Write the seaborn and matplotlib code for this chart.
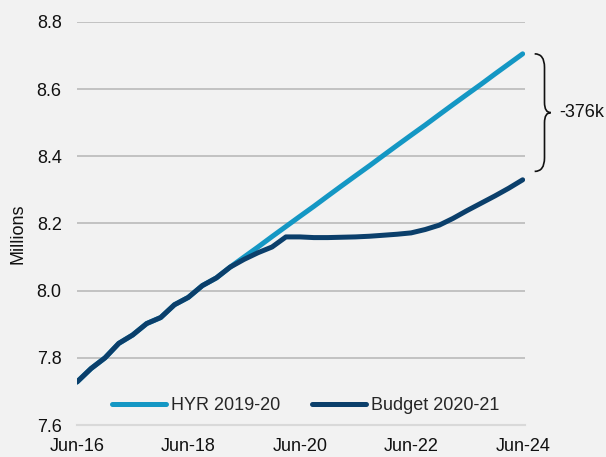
import pandas as pd
import seaborn as sns
import matplotlib.pyplot as plt
import matplotlib.dates as mdates
from matplotlib.path import Path
from matplotlib.patches import PathPatch

# quarterly, Jun-16 .. Jun-24
quarters = pd.date_range("2016-06-30", "2024-06-30", freq="QE")

budget_2020_21 = [
    7.728, 7.768, 7.800, 7.843, 7.868, 7.902, 7.920, 7.958, 7.980,
    8.015, 8.038, 8.070, 8.093, 8.113, 8.130, 8.160, 8.160, 8.158,
    8.158, 8.159, 8.160, 8.162, 8.165, 8.168, 8.172, 8.182, 8.195,
    8.215, 8.238, 8.260, 8.282, 8.305, 8.330,
]
hyr_2019_20 = [
    7.728, 7.768, 7.800, 7.843, 7.868, 7.902, 7.920, 7.958, 7.980,
    8.015, 8.038, 8.070, 8.100, 8.130, 8.161, 8.191, 8.221, 8.251,
    8.282, 8.312, 8.342, 8.372, 8.403, 8.433, 8.463, 8.493, 8.524,
    8.554, 8.584, 8.614, 8.645, 8.675, 8.705,
]
series_names = ["HYR 2019-20", "Budget 2020-21"]
series_colors = ["#1497c4", "#0b3f6b"]
gap_label = "-376k"

df = pd.DataFrame({
    "quarter": list(quarters) * 2,
    "value": hyr_2019_20 + budget_2020_21,
    "series": [series_names[0]] * len(quarters) + [series_names[1]] * len(quarters),
})

sns.set_theme(style="white")
plt.rcParams["font.family"] = ["Liberation Sans", "DejaVu Sans"]
plt.rcParams["font.size"] = 13

fig = plt.figure(figsize=(6.06, 4.57), dpi=100, facecolor="#f2f2f2")
ax = fig.add_axes([0.127, 0.070, 0.739, 0.882])
ax.set_facecolor("#f2f2f2")

sns.lineplot(data=df, x="quarter", y="value", hue="series", hue_order=series_names,
             palette=series_colors, linewidth=3.6, ax=ax, legend=True)
for line in ax.get_lines():
    line.set_solid_capstyle("round")

ax.set_ylim(7.6, 8.8)
ax.set_yticks([7.6, 7.8, 8.0, 8.2, 8.4, 8.6, 8.8])
ax.yaxis.set_major_formatter(plt.FormatStrFormatter("%.1f"))
ax.set_xlim(quarters[0], quarters[-1] + pd.Timedelta(days=14))
ax.set_xticks(quarters[::8])
ax.xaxis.set_major_formatter(mdates.DateFormatter("%b-%y"))

ax.grid(axis="y", color="#bfbfbf", linewidth=1.3)
ax.yaxis.get_gridlines()[0].set_visible(False)
for side in ["top", "right", "left"]:
    ax.spines[side].set_visible(False)
ax.spines["bottom"].set_color("#d9d9d9")
ax.spines["bottom"].set_linewidth(1.5)
ax.tick_params(axis="both", length=0, labelsize=13, colors="#111111")
ax.tick_params(axis="y", pad=11)
ax.tick_params(axis="x", pad=9)

ax.set_xlabel("")
ax.set_ylabel("Millions", fontsize=13, color="#111111")
ax.yaxis.set_label_coords(-0.113, 0.474)

handles, labels = ax.get_legend_handles_labels()
ax.legend(handles, labels, loc="center left", bbox_to_anchor=(0.078, 0.048),
          ncol=2, frameon=False, fontsize=13, handlelength=3.0, handletextpad=0.25,
          columnspacing=1.8, borderpad=0, borderaxespad=0)

# curly brace showing the gap at Jun-24
top, bot = hyr_2019_20[-1], 8.355
mid = (top + bot) / 2
x0, x1, x2 = 1.022, 1.044, 1.058
verts = [
    (x0, top), (x1, top), (x1, top - 0.04),
    (x1, mid + 0.03),
    (x1, mid), (x2, mid),
    (x1, mid), (x1, mid - 0.03),
    (x1, bot + 0.04),
    (x1, bot), (x0, bot),
]
codes = [Path.MOVETO, Path.CURVE3, Path.CURVE3, Path.LINETO,
         Path.CURVE3, Path.CURVE3, Path.CURVE3, Path.CURVE3,
         Path.LINETO, Path.CURVE3, Path.CURVE3]
brace = PathPatch(Path(verts, codes), transform=ax.get_yaxis_transform(),
                  facecolor="none", edgecolor="#111111", linewidth=1.2, clip_on=False)
ax.add_patch(brace)
ax.text(1.077, mid, gap_label, transform=ax.get_yaxis_transform(), fontsize=13,
        va="center", ha="left", color="#111111")

fig.savefig("out.png", dpi=100, facecolor=fig.get_facecolor())
